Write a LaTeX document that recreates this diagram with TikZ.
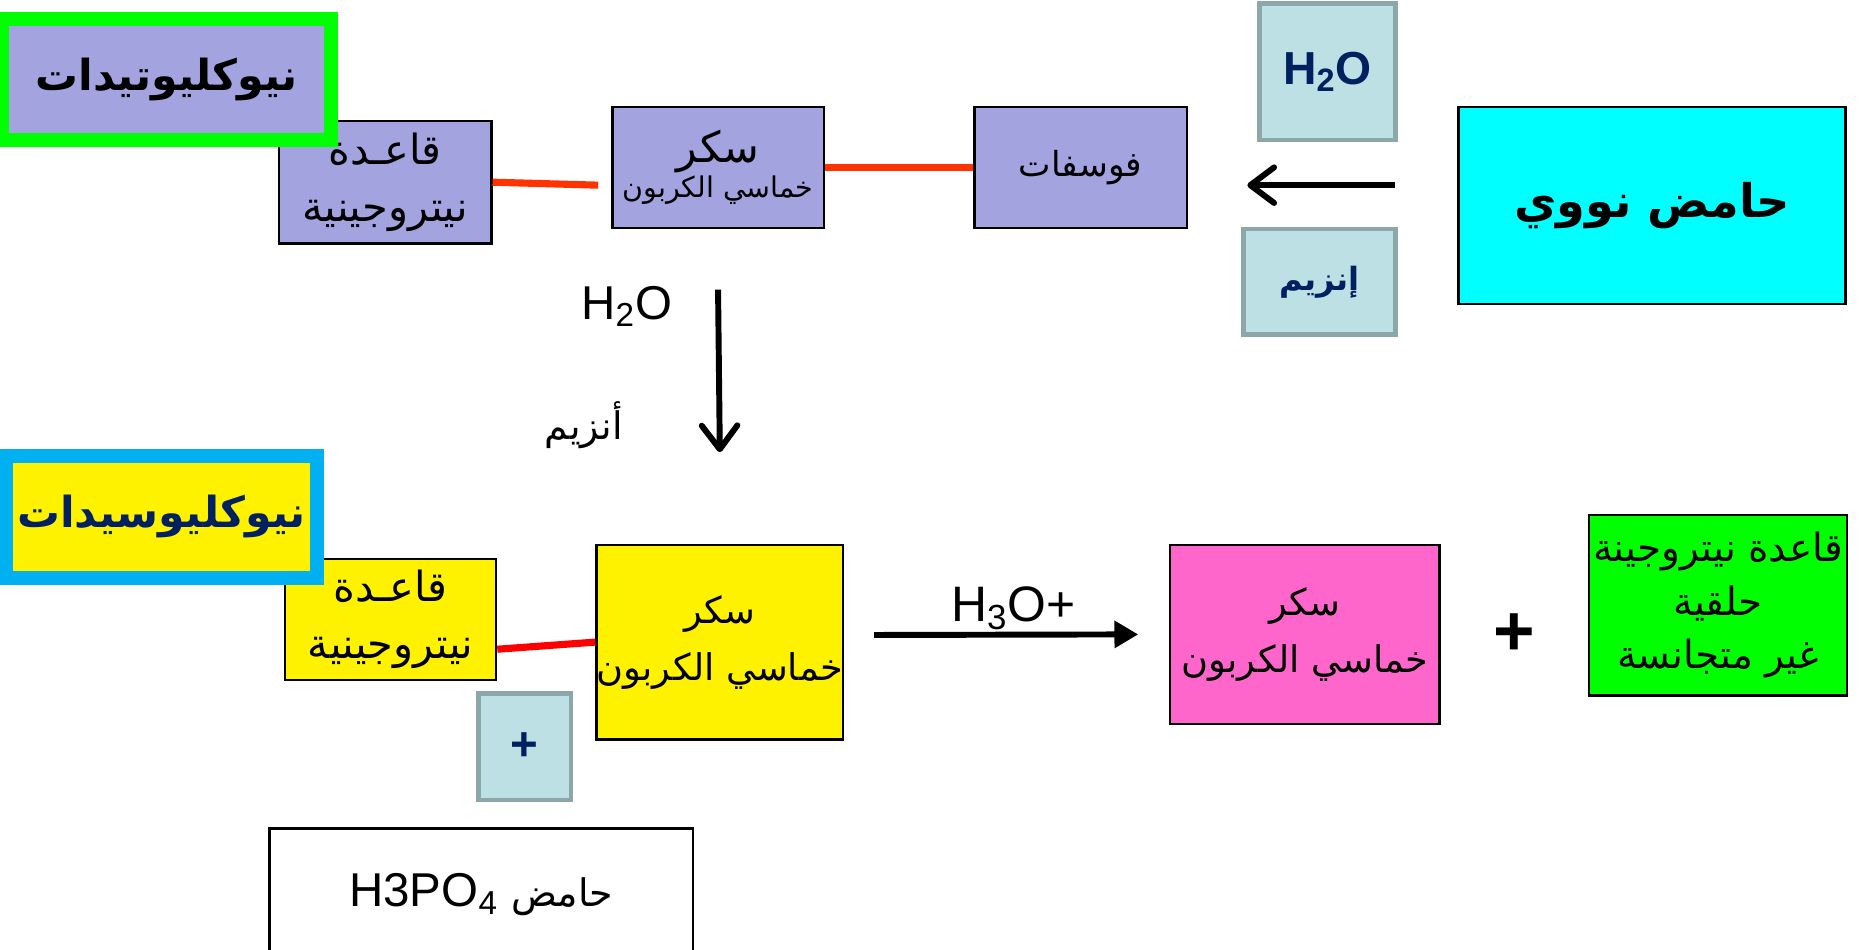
\documentclass[tikz,border=0pt]{standalone}
\usepackage{fontspec}
\setmainfont{Liberation Sans}
\newfontfamily\arabicfont[Script=Arabic]{DejaVu Sans}
\TeXXeTstate=1
\usepackage{xcolor}
\usepackage{tikz}
\usetikzlibrary{arrows.meta,positioning,calc}

\definecolor{lavender}{HTML}{A3A3E0}
\definecolor{tagfill}{HTML}{BCE0E3}
\definecolor{tagline}{HTML}{8DA6A8}
\definecolor{navy}{HTML}{002060}
\definecolor{aqua}{HTML}{00FFFF}
\definecolor{framegreen}{HTML}{00FF00}
\definecolor{frameblue}{HTML}{00B0F0}
\definecolor{bondorange}{HTML}{FF3300}
\definecolor{pinkish}{HTML}{FF66CC}

% one right-to-left line of Arabic
\newcommand{\arb}[1]{{\arabicfont\beginR #1\endR}}
\newcommand{\fsz}[2]{\fontsize{#1}{#2}\selectfont}

\begin{document}
\begin{tikzpicture}[x=0.5pt, y=-0.5pt,
  every node/.style={inner sep=0pt, align=center},
  part/.style={draw, line width=1pt},
  tag/.style={draw=tagline, fill=tagfill, line width=2pt, text=navy, font=\bfseries},
  frame/.style={line width=6pt},
  bond/.style={line width=3pt},
  flow/.style={line width=2.5pt, -{Straight Barb[length=10pt,width=15pt,round]}}
]
\clip (0,0) rectangle (1568,800);

% upper row: nucleic acid -> nucleotide
\node[part, fill=lavender, minimum width=89.5pt, minimum height=51.5pt, font=\fsz{17.5}{24}] (nbase) at (324.5,153.5)
  {\arb{قاعـدة}\\\arb{نيتروجينية}};
\node[part, fill=lavender, minimum width=89pt, minimum height=51pt] (sugar) at (605,141)
  {{\fsz{18}{20}\arb{سكر}}\\{\fsz{12}{20}\arb{خماسي الكربون}}};
\node[part, fill=lavender, minimum width=89.5pt, minimum height=51pt, font=\fsz{14.5}{18}] (phos) at (910.5,141)
  {\arb{فوسفات}};
\node[tag, minimum width=57.5pt, minimum height=57.5pt, font=\bfseries\fsz{19.5}{22}] (water) at (1118.5,60.5)
  {H\textsubscript{2}O};
\node[tag, minimum width=64pt, minimum height=44.5pt, font=\bfseries\fsz{13.5}{16}] (enz) at (1112,237.5)
  {\arb{إنزيم}};
\node[part, fill=aqua, minimum width=163pt, minimum height=83pt, font=\bfseries\fsz{19.5}{22}] (acid) at (1392,173)
  {\arb{حامض نووي}};

\draw[bond, bondorange] (nbase.east) -- ([xshift=-5.5pt,yshift=-7.5pt]sugar.west);
\draw[bond, bondorange] (sugar.east) -- (phos.west);
\draw[flow] ([xshift=-26.5pt,yshift=8.5pt]acid.west) -- ([xshift=25pt,yshift=-7.5pt]phos.east);

\node[draw=framegreen, frame, fill=lavender, minimum width=138.5pt, minimum height=51pt, font=\bfseries\fsz{18}{22}] (ntide) at (140.5,67)
  {\arb{نيوكليوتيدات}};

% hydrolysis of the phosphate
\node[font=\fsz{20}{22}] (wlabel) at (528,258) {H\textsubscript{2}O};
\node[font=\fsz{16}{18}] (elabel) at (492,358) {\arb{أنزيم}};

% lower row: nucleoside
\node[part, fill=yellow, minimum width=89pt, minimum height=51pt, font=\fsz{17.5}{24}] (nbase2) at (329,522)
  {\arb{قاعـدة}\\\arb{نيتروجينية}};
\node[part, fill=yellow, minimum width=101.5pt, minimum height=82pt, font=\fsz{15.5}{24}] (sugar2) at (606.5,541)
  {\arb{سكر}\\\arb{خماسي الكربون}};
\node[tag, minimum width=39pt, minimum height=45pt, font=\bfseries\fsz{20}{22}] (plus1) at (442,629) {+};
\node[part, minimum width=178.5pt, minimum height=56pt, font=\fsz{20}{22}] (h3po4) at (405.5,754)
  {H3PO\textsubscript{4} {\fsz{16}{18}\arb{حامض}}};

\draw[flow] ([yshift=-25.5pt]sugar.south) -- ([yshift=38.5pt]sugar2.north);
\draw[bond, red] ([yshift=-12.5pt]nbase2.east) -- (sugar2.west);

\node[draw=frameblue, frame, fill=yellow, minimum width=131pt, minimum height=51.5pt, text=navy, font=\bfseries\fsz{18}{22}] (nside) at (136,435.5)
  {\arb{نيوكليوسيدات}};

% acid hydrolysis of the nucleoside
\node[part, fill=pinkish, minimum width=113.5pt, minimum height=75.5pt, font=\fsz{15.5}{24}] (sugar3) at (1099.5,534.5)
  {\arb{سكر}\\\arb{خماسي الكربون}};
\node[font=\bfseries\fsz{30}{32}] (plus2) at (1276,535) {+};
\node[part, fill=framegreen, minimum width=108.5pt, minimum height=76pt, font=\fsz{16.4}{22.5}] (base) at (1447.5,510)
  {\arb{قاعدة نيتروجينة}\\\arb{حلقية}\\\arb{غير متجانسة}};

\draw[line width=2.5pt, -{Triangle[length=10pt,width=11pt]}] ([xshift=12.5pt,yshift=3pt]sugar2.east) -- ([xshift=-13pt]sugar3.west)
  node[midway, above=1pt, xshift=3pt, font=\fsz{21}{22}] (h3o) {H\textsubscript{3}O+};

\end{tikzpicture}
\end{document}
